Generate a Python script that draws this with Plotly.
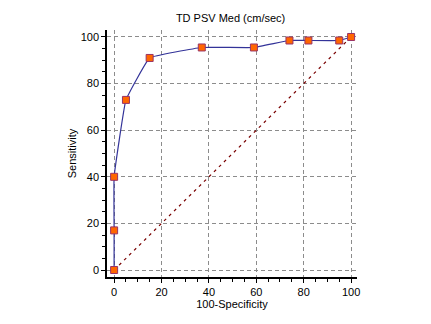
import plotly.graph_objects as go

fpr = [0, 0, 0, 5, 15, 37, 59, 74, 82, 95, 100]
tpr = [0, 17, 40, 73, 91, 95.5, 95.5, 98.5, 98.5, 98.5, 100]
diag_x = [0, 100]
diag_y = [0, 100]
x_ticks = [0, 20, 40, 60, 80, 100]
y_ticks = [0, 20, 40, 60, 80, 100]
title = "TD PSV Med (cm/sec)"

fig = go.Figure()
fig.add_trace(go.Scatter(x=diag_x, y=diag_y, mode="lines",
                         line=dict(color="#7a0000", width=1.2, dash="3px,4px"),
                         hoverinfo="skip"))
fig.add_trace(go.Scatter(x=fpr, y=tpr, mode="lines+markers",
                         line=dict(color="#333399", width=1.2, shape="spline", smoothing=0.25),
                         marker=dict(symbol="square", size=7, color="#ff6600",
                                     line=dict(color="#993366", width=1))))

axis_common = dict(
    showline=True, linecolor="black", linewidth=1.5, mirror=False,
    ticks="outside", ticklen=4, tickcolor="black", tickwidth=1,
    showgrid=True, gridcolor="#8c8c8c", griddash="4px,3px", gridwidth=1,
    zeroline=False, tickfont=dict(family="Arial", size=11, color="black"),
    minor=dict(ticks="outside", ticklen=3, tickcolor="black", dtick=5, showgrid=False),
)
fig.update_xaxes(range=[-3, 102.5], tickvals=x_ticks,
                 title=dict(text="100-Specificity", font=dict(family="Arial", size=11, color="black"), standoff=0),
                 **axis_common)
fig.update_yaxes(range=[-3, 103], tickvals=y_ticks,
                 title=dict(text="Sensitivity", font=dict(family="Arial", size=11, color="black"), standoff=2),
                 **axis_common)
fig.update_layout(
    width=431, height=324,
    margin=dict(l=107, r=74, t=30, b=47),
    paper_bgcolor="white", plot_bgcolor="white",
    showlegend=False,
    title=dict(text=title, x=0.535, xanchor="center", y=0.945, yanchor="middle",
               font=dict(family="Arial", size=11, color="black")),
)
fig.write_html("out.html")
